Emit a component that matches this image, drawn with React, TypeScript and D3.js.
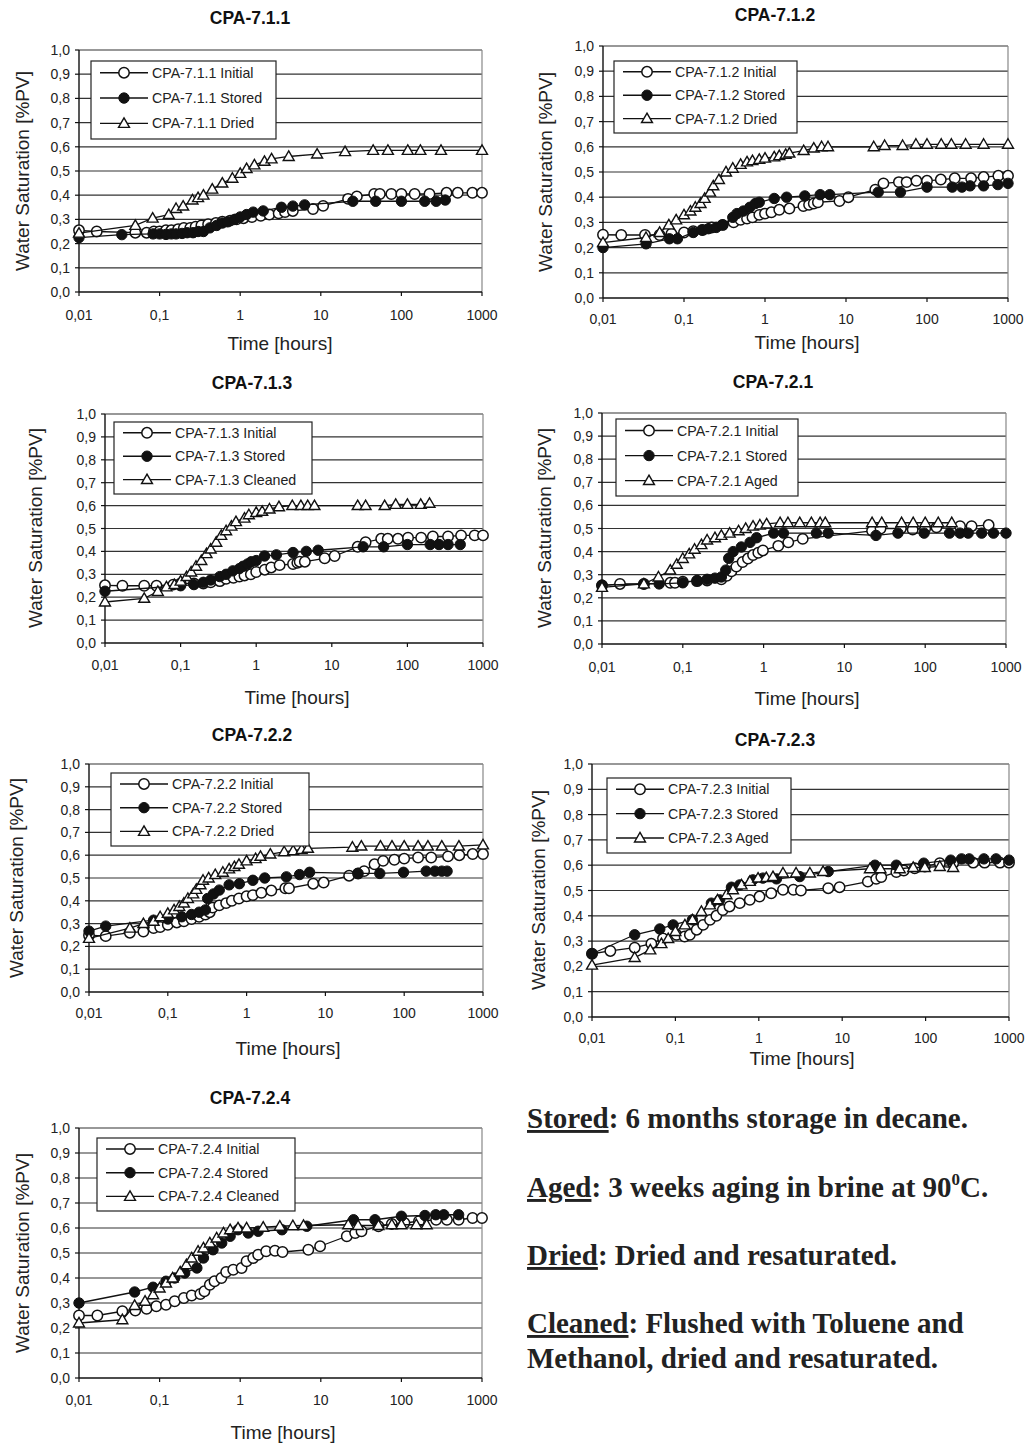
import React from 'react';
import * as d3 from 'd3';

type Pt = [number, number];

// ---- data: [time in hours, water saturation] ----
const s711Initial: Pt[] = [[0.01,0.255],[0.0166,0.25],[0.05,0.245],[0.069,0.245],[0.085,0.25],[0.1,0.25],[0.12,0.255],[0.14,0.255],[0.17,0.26],[0.2,0.265],[0.24,0.265],[0.28,0.27],[0.33,0.275],[0.4,0.28],[0.5,0.285],[0.6,0.29],[0.75,0.295],[0.9,0.3],[1.1,0.305],[1.4,0.31],[1.8,0.315],[2.3,0.32],[3,0.325],[3.6,0.33],[4.5,0.335],[8,0.343],[10.7,0.356],[21.8,0.385],[28,0.395],[46,0.405],[54,0.405],[75,0.405],[100,0.405],[146,0.405],[223,0.405],[363,0.41],[500,0.41],[760,0.41],[1000,0.41]];
const s711Stored: Pt[] = [[0.01,0.225],[0.034,0.237],[0.083,0.24],[0.1,0.24],[0.12,0.238],[0.14,0.24],[0.16,0.24],[0.19,0.242],[0.22,0.245],[0.26,0.245],[0.3,0.25],[0.35,0.25],[0.42,0.265],[0.51,0.275],[0.6,0.285],[0.7,0.29],[0.85,0.3],[1.0,0.31],[1.2,0.32],[1.45,0.33],[1.93,0.335],[3.25,0.35],[4.5,0.355],[6.3,0.36],[25,0.375],[48,0.375],[100,0.375],[195,0.375],[270,0.375],[350,0.38]];
const s711Dried: Pt[] = [[0.01,0.243],[0.05,0.275],[0.082,0.305],[0.13,0.32],[0.16,0.345],[0.196,0.355],[0.256,0.38],[0.3,0.39],[0.35,0.4],[0.45,0.425],[0.6,0.45],[0.8,0.47],[1.0,0.49],[1.2,0.51],[1.5,0.525],[2.0,0.54],[2.45,0.55],[4.0,0.56],[9.0,0.57],[20,0.58],[44.6,0.585],[68,0.585],[120,0.585],[172,0.585],[310,0.585],[1000,0.585]];

const s712Initial: Pt[] = [[0.01,0.251],[0.0168,0.25],[0.033,0.25],[0.05,0.25],[0.07,0.255],[0.1,0.26],[0.13,0.265],[0.17,0.27],[0.22,0.28],[0.3,0.29],[0.41,0.3],[0.5,0.31],[0.6,0.315],[0.7,0.32],[0.85,0.33],[1.0,0.335],[1.2,0.34],[1.5,0.35],[2.0,0.355],[2.98,0.365],[3.5,0.37],[4.0,0.375],[4.5,0.38],[8.3,0.385],[10.7,0.4],[23,0.43],[29,0.455],[45,0.46],[56,0.46],[74,0.465],[100,0.465],[148,0.47],[220,0.475],[350,0.475],[500,0.48],[760,0.485],[1000,0.485]];
const s712Stored: Pt[] = [[0.01,0.2],[0.034,0.215],[0.066,0.235],[0.083,0.235],[0.13,0.26],[0.166,0.27],[0.2,0.275],[0.25,0.28],[0.3,0.29],[0.4,0.32],[0.45,0.335],[0.54,0.345],[0.65,0.36],[0.76,0.375],[0.85,0.38],[1.3,0.395],[1.85,0.4],[3.1,0.405],[4.8,0.41],[6.3,0.41],[25,0.42],[47,0.42],[100,0.44],[205,0.44],[270,0.44],[340,0.445],[500,0.445],[750,0.45],[1000,0.455]];
const s712Dried: Pt[] = [[0.01,0.22],[0.034,0.24],[0.05,0.26],[0.065,0.29],[0.08,0.31],[0.1,0.33],[0.12,0.345],[0.138,0.36],[0.16,0.375],[0.18,0.395],[0.21,0.42],[0.23,0.445],[0.27,0.47],[0.33,0.5],[0.4,0.515],[0.5,0.53],[0.6,0.54],[0.7,0.545],[0.85,0.55],[1.0,0.555],[1.3,0.56],[1.5,0.565],[1.8,0.57],[2.0,0.575],[3.0,0.585],[4.0,0.595],[5.0,0.6],[6.0,0.6],[22,0.6],[30,0.605],[50,0.605],[73,0.61],[100,0.61],[150,0.61],[200,0.61],[300,0.61],[500,0.61],[1000,0.61]];

const s713Initial: Pt[] = [[0.01,0.252],[0.017,0.25],[0.033,0.25],[0.048,0.25],[0.08,0.255],[0.1,0.26],[0.15,0.26],[0.2,0.26],[0.25,0.265],[0.33,0.27],[0.4,0.28],[0.5,0.285],[0.6,0.29],[0.7,0.295],[0.85,0.3],[1.0,0.31],[1.3,0.32],[1.58,0.33],[2.04,0.34],[3.07,0.345],[3.5,0.35],[3.76,0.355],[4.4,0.355],[8.05,0.37],[10.9,0.38],[22,0.42],[28,0.44],[45,0.455],[55,0.455],[75,0.455],[102,0.46],[152,0.46],[217,0.465],[345,0.465],[513,0.47],[776,0.47],[1000,0.47]];
const s713Stored: Pt[] = [[0.01,0.226],[0.1,0.25],[0.15,0.255],[0.2,0.265],[0.25,0.275],[0.33,0.29],[0.4,0.3],[0.49,0.315],[0.6,0.325],[0.67,0.335],[0.77,0.345],[0.86,0.355],[1.0,0.36],[1.29,0.38],[1.85,0.385],[3.07,0.395],[4.6,0.4],[6.6,0.405],[26,0.42],[48.5,0.42],[100,0.43],[200,0.43],[262,0.43],[345,0.43],[500,0.43]];
const s713Cleaned: Pt[] = [[0.01,0.179],[0.033,0.195],[0.05,0.225],[0.065,0.245],[0.083,0.255],[0.1,0.27],[0.12,0.29],[0.138,0.31],[0.16,0.335],[0.188,0.36],[0.22,0.39],[0.25,0.41],[0.296,0.44],[0.345,0.47],[0.4,0.49],[0.47,0.51],[0.54,0.53],[0.7,0.545],[0.8,0.56],[1.0,0.57],[1.2,0.575],[1.5,0.585],[2.0,0.595],[3.0,0.6],[3.9,0.6],[4.8,0.6],[5.9,0.6],[22,0.6],[28,0.6],[50,0.6],[70,0.605],[100,0.605],[150,0.605],[196,0.61]];

const s721Initial: Pt[] = [[0.01,0.253],[0.0167,0.26],[0.033,0.26],[0.07,0.265],[0.08,0.265],[0.1,0.27],[0.15,0.272],[0.2,0.275],[0.3,0.28],[0.35,0.295],[0.4,0.315],[0.46,0.335],[0.55,0.355],[0.64,0.37],[0.74,0.385],[0.86,0.395],[0.98,0.405],[1.52,0.425],[2.02,0.44],[3.05,0.455],[22,0.49],[28,0.5],[50,0.5],[70,0.495],[100,0.5],[138,0.505],[270,0.51],[375,0.51],[610,0.515]];
const s721Stored: Pt[] = [[0.01,0.255],[0.033,0.26],[0.051,0.26],[0.1,0.265],[0.15,0.275],[0.2,0.28],[0.25,0.285],[0.3,0.29],[0.34,0.32],[0.37,0.371],[0.42,0.4],[0.53,0.42],[0.68,0.44],[0.82,0.46],[1.33,0.48],[1.76,0.48],[4.5,0.48],[6.3,0.48],[24.6,0.47],[46,0.48],[97,0.48],[200,0.48],[270,0.48],[340,0.48],[500,0.48],[700,0.48],[1000,0.48]];
const s721Aged: Pt[] = [[0.01,0.245],[0.033,0.26],[0.05,0.29],[0.07,0.32],[0.084,0.345],[0.1,0.37],[0.12,0.39],[0.14,0.41],[0.17,0.43],[0.2,0.45],[0.25,0.46],[0.3,0.47],[0.38,0.48],[0.49,0.49],[0.6,0.5],[0.74,0.51],[0.9,0.515],[1.09,0.52],[1.6,0.525],[2.0,0.525],[2.8,0.525],[3.9,0.525],[5.0,0.525],[5.8,0.525],[22,0.525],[29,0.525],[51,0.525],[71,0.525],[100,0.525],[145,0.525],[213,0.525]];

const s722Initial: Pt[] = [[0.01,0.249],[0.0163,0.245],[0.033,0.26],[0.049,0.265],[0.066,0.28],[0.08,0.285],[0.1,0.295],[0.13,0.305],[0.16,0.31],[0.2,0.32],[0.25,0.33],[0.3,0.34],[0.34,0.35],[0.37,0.37],[0.45,0.38],[0.55,0.39],[0.65,0.4],[0.8,0.41],[1.0,0.42],[1.2,0.425],[1.54,0.435],[2.06,0.445],[3.1,0.455],[3.45,0.455],[7,0.475],[9.5,0.48],[20,0.51],[26,0.52],[31,0.53],[42,0.56],[54,0.575],[75,0.58],[100,0.585],[150,0.59],[220,0.59],[360,0.595],[500,0.6],[740,0.605],[1000,0.605]];
const s722Stored: Pt[] = [[0.01,0.267],[0.0163,0.289],[0.066,0.315],[0.1,0.32],[0.15,0.33],[0.2,0.34],[0.25,0.35],[0.3,0.36],[0.32,0.41],[0.38,0.43],[0.45,0.447],[0.6,0.47],[0.81,0.475],[1.2,0.49],[1.7,0.5],[3.2,0.505],[4.7,0.515],[6.3,0.525],[26,0.52],[49,0.52],[98,0.525],[190,0.53],[245,0.53],[300,0.53],[350,0.53]];
const s722Dried: Pt[] = [[0.01,0.235],[0.033,0.28],[0.049,0.3],[0.066,0.31],[0.08,0.33],[0.1,0.345],[0.12,0.36],[0.14,0.375],[0.16,0.39],[0.18,0.41],[0.21,0.43],[0.23,0.45],[0.26,0.47],[0.28,0.49],[0.33,0.5],[0.4,0.515],[0.5,0.525],[0.6,0.54],[0.7,0.55],[0.8,0.56],[1.0,0.575],[1.3,0.585],[1.5,0.595],[2.0,0.605],[3.0,0.615],[3.9,0.62],[5.0,0.625],[6.0,0.63],[22,0.635],[28.6,0.64],[50,0.64],[70,0.64],[100,0.64],[150,0.64],[200,0.64],[300,0.64],[495,0.64],[1000,0.645]];

const s723Initial: Pt[] = [[0.01,0.25],[0.0166,0.261],[0.0325,0.274],[0.0515,0.29],[0.071,0.31],[0.103,0.325],[0.129,0.318],[0.149,0.325],[0.18,0.345],[0.215,0.364],[0.26,0.384],[0.31,0.4],[0.37,0.423],[0.445,0.437],[0.59,0.45],[0.78,0.463],[1.02,0.476],[1.41,0.489],[1.95,0.503],[2.6,0.503],[3.2,0.5],[6.8,0.509],[9.3,0.513],[20.3,0.535],[25.6,0.546],[29.4,0.553],[44.6,0.573],[54.7,0.579],[74,0.588],[98,0.595],[148,0.608],[214,0.608],[372,0.61],[510,0.61],[780,0.61],[1000,0.61]];
const s723Stored: Pt[] = [[0.01,0.25],[0.0325,0.325],[0.065,0.348],[0.094,0.364],[0.16,0.384],[0.27,0.45],[0.34,0.463],[0.47,0.513],[0.59,0.522],[0.85,0.542],[1.12,0.549],[1.63,0.546],[3.1,0.555],[6.8,0.575],[24.7,0.6],[44.6,0.6],[95,0.608],[200,0.62],[270,0.625],[333,0.625],[500,0.625],[700,0.625],[1000,0.62]];
const s723Aged: Pt[] = [[0.01,0.205],[0.0325,0.235],[0.05,0.265],[0.068,0.29],[0.082,0.31],[0.1,0.338],[0.13,0.364],[0.16,0.384],[0.205,0.417],[0.26,0.443],[0.32,0.463],[0.41,0.483],[0.49,0.503],[0.62,0.522],[0.78,0.536],[0.98,0.549],[1.23,0.551],[1.48,0.555],[1.95,0.569],[2.8,0.569],[4.1,0.569],[5.9,0.575],[21.5,0.586],[28.8,0.586],[49,0.586],[71,0.591],[98,0.591],[148,0.595],[214,0.591]];

const s724Initial: Pt[] = [[0.01,0.25],[0.0169,0.25],[0.0345,0.267],[0.05,0.27],[0.069,0.277],[0.091,0.287],[0.12,0.293],[0.154,0.307],[0.2,0.32],[0.25,0.33],[0.32,0.336],[0.36,0.347],[0.42,0.373],[0.48,0.387],[0.585,0.4],[0.67,0.424],[0.82,0.433],[1.04,0.44],[1.2,0.467],[1.45,0.48],[1.67,0.493],[2.1,0.507],[2.7,0.509],[3.35,0.504],[7.0,0.513],[9.8,0.527],[21,0.567],[26.7,0.58],[32,0.587],[52,0.607],[76,0.616],[109,0.62],[165,0.627],[270,0.633],[367,0.633],[513,0.633],[764,0.64],[1000,0.64]];
const s724Stored: Pt[] = [[0.01,0.3],[0.049,0.344],[0.083,0.363],[0.12,0.387],[0.154,0.4],[0.205,0.42],[0.29,0.44],[0.35,0.48],[0.46,0.513],[0.59,0.54],[0.75,0.567],[0.94,0.593],[1.26,0.58],[1.67,0.587],[3.3,0.593],[6.7,0.607],[25.5,0.633],[47,0.633],[100,0.647],[196,0.65],[267,0.653],[336,0.653],[513,0.653]];
const s724Cleaned: Pt[] = [[0.01,0.22],[0.0345,0.233],[0.049,0.29],[0.066,0.307],[0.083,0.333],[0.1,0.36],[0.12,0.38],[0.145,0.4],[0.18,0.424],[0.215,0.453],[0.25,0.48],[0.3,0.507],[0.35,0.52],[0.42,0.54],[0.51,0.56],[0.62,0.58],[0.75,0.593],[0.94,0.6],[1.2,0.6],[1.93,0.603],[3.1,0.607],[4.5,0.609],[6.1,0.61],[21.9,0.613],[29,0.61],[52,0.61],[76,0.613],[100,0.613],[153,0.613],[206,0.613]];

const panelNames = ['CPA-7.1.1', 'CPA-7.1.2', 'CPA-7.1.3', 'CPA-7.2.1', 'CPA-7.2.2', 'CPA-7.2.3', 'CPA-7.2.4'];
const thirdLabels = ['Dried', 'Dried', 'Cleaned', 'Aged', 'Dried', 'Aged', 'Cleaned'];
const panelSeries: Pt[][][] = [
  [s711Initial, s711Stored, s711Dried],
  [s712Initial, s712Stored, s712Dried],
  [s713Initial, s713Stored, s713Cleaned],
  [s721Initial, s721Stored, s721Aged],
  [s722Initial, s722Stored, s722Dried],
  [s723Initial, s723Stored, s723Aged],
  [s724Initial, s724Stored, s724Cleaned],
];

const xTicks = [0.01, 0.1, 1, 10, 100, 1000];
const xTickLabels = ['0,01', '0,1', '1', '10', '100', '1000'];
const yTicks = [0, 0.1, 0.2, 0.3, 0.4, 0.5, 0.6, 0.7, 0.8, 0.9, 1.0];

// layout of each panel on the page
const layouts = [
  { l: 79, r: 482, t: 50, b: 292, tx: 250, ty: 18, xty: 315, xtx: 280, xtt: 343, ytx: 22, yty: 171, lg: [91, 61, 185, 78] },
  { l: 603, r: 1008, t: 46, b: 298, tx: 775, ty: 15, xty: 319, xtx: 807, xtt: 342, ytx: 545, yty: 172, lg: [614, 61, 183, 72] },
  { l: 105, r: 483, t: 414, b: 643, tx: 252, ty: 383, xty: 665, xtx: 297, xtt: 697, ytx: 35, yty: 528, lg: [114, 422, 198, 72] },
  { l: 602, r: 1006, t: 413, b: 644, tx: 773, ty: 382, xty: 667, xtx: 807, xtt: 698, ytx: 544, yty: 528, lg: [616, 419, 182, 77] },
  { l: 89, r: 483, t: 764, b: 992, tx: 252, ty: 735, xty: 1013, xtx: 288, xtt: 1048, ytx: 16, yty: 878, lg: [111, 773, 198, 73] },
  { l: 592, r: 1009, t: 764, b: 1017, tx: 775, ty: 740, xty: 1038, xtx: 802, xtt: 1058, ytx: 538, yty: 890, lg: [607, 778, 184, 75] },
  { l: 79, r: 482, t: 1128, b: 1378, tx: 250, ty: 1098, xty: 1400, xtx: 283, xtt: 1432, ytx: 22, yty: 1253, lg: [97, 1138, 198, 73] },
];

const SANS = '"Liberation Sans", Arial, Helvetica, sans-serif';
const SERIF = '"Liberation Serif", "Times New Roman", Times, serif';
const tri = d3.symbol().type(d3.symbolTriangle).size(52)();

function Marker({ kind, x, y }: { kind: number; x: number; y: number }) {
  if (kind === 0) return <circle cx={x} cy={y} r={5.2} fill="#fff" stroke="#111" strokeWidth={1.5} />;
  if (kind === 1) return <circle cx={x} cy={y} r={5.2} fill="#111" stroke="#111" strokeWidth={1} />;
  return <path d={tri as string} transform={`translate(${x},${y + 0.8})`} fill="#fff" stroke="#111" strokeWidth={1.4} />;
}

function Panel({ idx }: { idx: number }) {
  const L = layouts[idx];
  const name = panelNames[idx];
  const x = d3.scaleLog().domain([0.01, 1000]).range([L.l, L.r]);
  const y = d3.scaleLinear().domain([0, 1]).range([L.b, L.t]);
  const line = d3.line<Pt>().x(d => x(d[0])).y(d => y(d[1]));
  const labels = [`${name} Initial`, `${name} Stored`, `${name} ${thirdLabels[idx]}`];
  const [lx, ly, lw, lh] = L.lg;

  return (
    <g>
      <text x={L.tx} y={L.ty} textAnchor="middle" dominantBaseline="central" fontFamily={SANS} fontWeight="bold" fontSize={17.5} fill="#111">{name}</text>
      {/* grid */}
      {yTicks.slice(1).map(t => (
        <line key={t} x1={L.l} x2={L.r} y1={y(t)} y2={y(t)} stroke="#333" strokeWidth={1.2} />
      ))}
      <line x1={L.r} x2={L.r} y1={L.t} y2={L.b} stroke="#888" strokeWidth={1.2} />
      {/* axes */}
      <line x1={L.l} x2={L.l} y1={L.t} y2={L.b} stroke="#111" strokeWidth={1.4} />
      <line x1={L.l} x2={L.r} y1={L.b} y2={L.b} stroke="#111" strokeWidth={1.4} />
      {yTicks.map(t => (
        <g key={t}>
          <line x1={L.l - 4} x2={L.l} y1={y(t)} y2={y(t)} stroke="#111" strokeWidth={1.2} />
          <text x={L.l - 9} y={y(t)} textAnchor="end" dominantBaseline="central" fontFamily={SANS} fontSize={14} fill="#222">
            {t.toFixed(1).replace('.', ',')}
          </text>
        </g>
      ))}
      {xTicks.map((t, i) => (
        <g key={t}>
          <line x1={x(t)} x2={x(t)} y1={L.b} y2={L.b + 4} stroke="#111" strokeWidth={1.2} />
          <text x={x(t)} y={L.xty} textAnchor="middle" dominantBaseline="central" fontFamily={SANS} fontSize={14} fill="#222">
            {xTickLabels[i]}
          </text>
        </g>
      ))}
      <text x={L.xtx} y={L.xtt} textAnchor="middle" dominantBaseline="central" fontFamily={SANS} fontSize={19} fill="#222">Time [hours]</text>
      <text transform={`translate(${L.ytx},${L.yty}) rotate(-90)`} textAnchor="middle" dominantBaseline="central" fontFamily={SANS} fontSize={19} fill="#222">
        Water Saturation [%PV]
      </text>
      {/* series */}
      {panelSeries[idx].map((s, k) => (
        <g key={k}>
          <path d={line(s) as string} fill="none" stroke="#111" strokeWidth={1.3} />
          {s.map((p, j) => <Marker key={j} kind={k} x={x(p[0])} y={y(p[1])} />)}
        </g>
      ))}
      {/* legend */}
      <rect x={lx} y={ly} width={lw} height={lh} fill="#fff" stroke="#222" strokeWidth={1.2} />
      {labels.map((lab, k) => {
        const ry = ly + lh * (0.15 + 0.325 * k);
        return (
          <g key={lab}>
            <line x1={lx + 9} x2={lx + 57} y1={ry} y2={ry} stroke="#111" strokeWidth={1.4} />
            <Marker kind={k} x={lx + 33} y={ry} />
            <text x={lx + 61} y={ry} dominantBaseline="central" fontFamily={SANS} fontSize={14.2} fill="#222">{lab}</text>
          </g>
        );
      })}
    </g>
  );
}

const notes = [
  { label: 'Stored', rest: ': 6 months storage in decane.', y: 1128 },
  { label: 'Aged', rest: ': 3 weeks aging in brine at 90', sup: '0', after: 'C.', y: 1197 },
  { label: 'Dried', rest: ': Dried and resaturated.', y: 1265 },
  { label: 'Cleaned', rest: ': Flushed with Toluene and', y: 1333 },
  { label: '', rest: 'Methanol, dried and resaturated.', y: 1368 },
];

export default function App() {
  return (
    <svg width={1029} height={1443} style={{ position: 'absolute', left: 0, top: 0, background: '#fff' }}>
      <rect width={1029} height={1443} fill="#fff" />
      {panelNames.map((_, i) => <Panel key={i} idx={i} />)}
      {notes.map(n => (
        <text key={n.y} x={527} y={n.y} fontFamily={SERIF} fontWeight="bold" fontSize={29} fill="#222">
          {n.label && <tspan style={{ textDecoration: 'underline' }}>{n.label}</tspan>}
          <tspan>{n.rest}</tspan>
          {n.sup && <tspan fontSize={17} dy={-12}>{n.sup}</tspan>}
          {n.after && <tspan dy={12}>{n.after}</tspan>}
        </text>
      ))}
    </svg>
  );
}
